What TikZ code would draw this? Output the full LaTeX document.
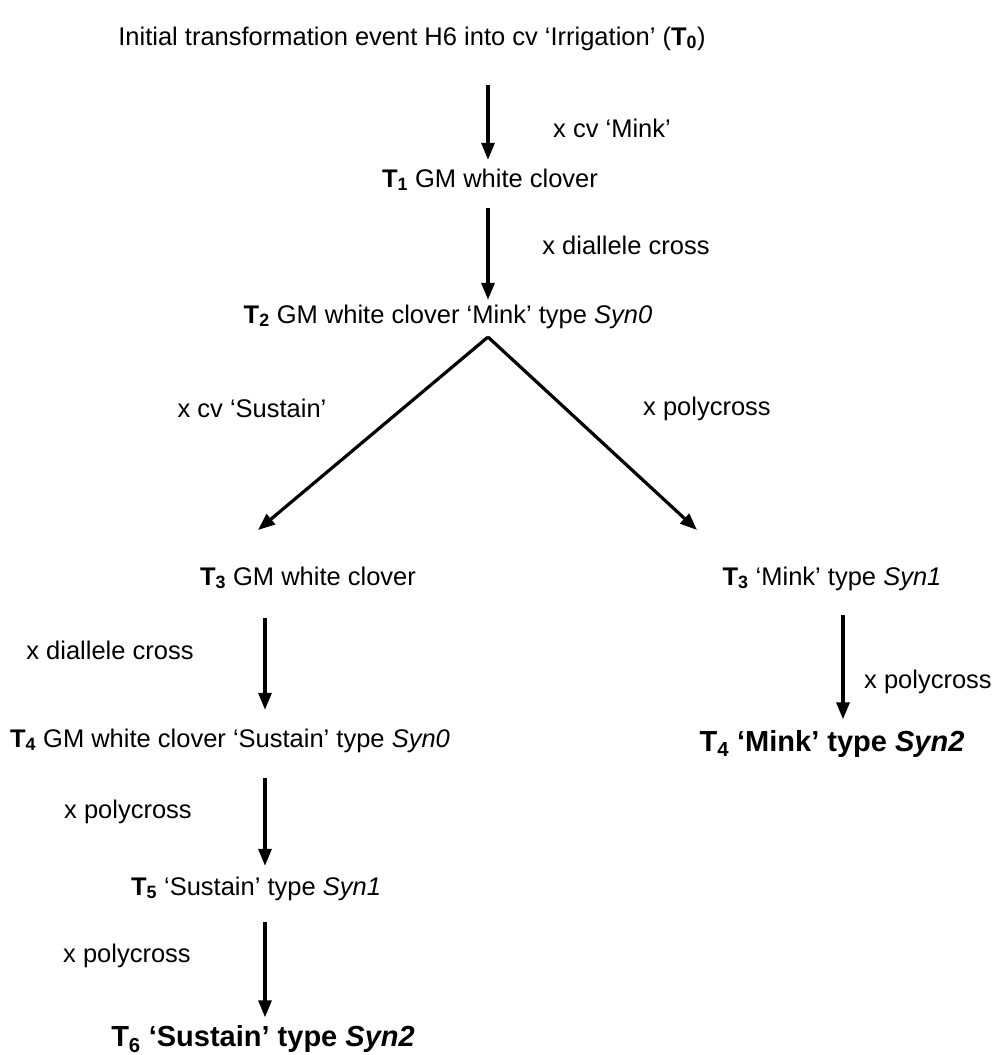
\documentclass[tikz,border=0pt]{standalone}
\usepackage{fontspec}
\setmainfont{Liberation Sans}
\usetikzlibrary{positioning, arrows.meta}
\newcommand{\gen}[1]{\textbf{T\textsubscript{#1}}}
\tikzset{
  stage/.style={inner sep=0pt, text height=19pt, text depth=5pt,
    font=\fontsize{25.5}{30}\selectfont},
  stageb/.style={stage, text height=21pt, text depth=6pt,
    font=\fontsize{29}{34}\selectfont\bfseries},
  lbl/.style={stage},
  flow/.style={-{Triangle[length=17pt,width=13pt]}, line width=3.2pt},
}

\begin{document}
\begin{tikzpicture}[x=1pt, y=-1pt]
  \useasboundingbox (0,0) rectangle (998,1055);
  % columns of the arrows
  \coordinate (ccol) at (488,0);
  \coordinate (lcol) at (265,0);
  \coordinate (rcol) at (843,0);
  \coordinate (fork) at (488,337);
  \coordinate (forkl) at (258,530);
  \coordinate (forkr) at (697,530);
  % main chain
  \node[stage] (t0) at (412,38) {Initial transformation event H6 into cv ‘Irrigation’ (\gen{0})};
  \node[stage] (t1) at (490,180) {\gen{1} GM white clover};
  \node[stage] (t2) at (448,316) {\gen{2} GM white clover ‘Mink’ type \textit{Syn0}};
  % left branch
  \node[stage] (t3l) at (308,578) {\gen{3} GM white clover};
  \node[stage] (t4l) at (230,740) {\gen{4} GM white clover ‘Sustain’ type \textit{Syn0}};
  \node[stage] (t5) at (256,888) {\gen{5} ‘Sustain’ type \textit{Syn1}};
  \node[stageb] (t6) at (263,1039) {T\textsubscript{6} ‘Sustain’ type \textit{Syn2}};
  % right branch
  \node[stage] (t3r) at (832,578) {\gen{3} ‘Mink’ type \textit{Syn1}};
  \node[stageb] (t4r) at (832,744) {T\textsubscript{4} ‘Mink’ type \textit{Syn2}};
  % cross labels
  \node[lbl] (m1) at (612,130) {x cv ‘Mink’};
  \node[lbl] (m2) at (626,247) {x diallele cross};
  \node[lbl] (l3) at (252,410) {x cv ‘Sustain’};
  \node[lbl] (r3) at (707,408) {x polycross};
  \node[lbl] (l4) at (110,652) {x diallele cross};
  \node[lbl] (r4) at (928,681) {x polycross};
  \node[lbl] (l5) at (128,811) {x polycross};
  \node[lbl] (l6) at (127,955) {x polycross};
  % arrows
  \draw[flow, shorten <=35pt, shorten >=8pt] (t0.south -| ccol) -- (t1.north -| ccol);
  \draw[flow, shorten <=16pt, shorten >=4pt] (t1.south -| ccol) -- (t2.north -| ccol);
  \draw[flow] (fork) -- (forkl);
  \draw[flow] (fork) -- (forkr);
  \draw[flow, shorten <=28pt, shorten >=18pt] (t3l.south -| lcol) -- (t4l.north -| lcol);
  \draw[flow, shorten <=25pt, shorten >=11pt] (t3r.south -| rcol) -- (t4r.north -| rcol);
  \draw[flow, shorten <=26pt, shorten >=10pt] (t4l.south -| lcol) -- (t5.north -| lcol);
  \draw[flow, shorten <=22pt, shorten >=8pt] (t5.south -| lcol) -- (t6.north -| lcol);
\end{tikzpicture}
\end{document}
